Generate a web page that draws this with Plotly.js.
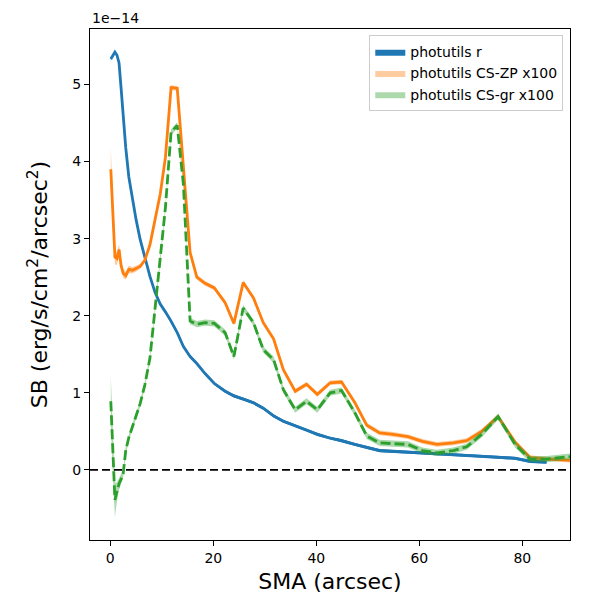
<!DOCTYPE html>
<html>
<head>
<meta charset="utf-8">
<script src="https://cdn.plot.ly/plotly-3.0.1.min.js"></script>
<style>
  html, body { margin: 0; padding: 0; background: #fff; }
  #plot { width: 600px; height: 600px; }
</style>
</head>
<body>
<div id="plot"></div>
<script>
// SMA samples (arcsec)
const sma = [0.1, 0.5, 0.9, 1.3, 1.7, 2.1, 2.5, 3.0, 3.6, 4.3,
  5.0, 5.8, 6.7, 7.7, 8.7, 9.7, 10.7, 11.8, 13.0, 14.2,
  15.5, 16.8, 18.4, 20.2, 22.3, 24.0, 25.8, 27.8, 29.7, 31.7,
  33.6, 35.9, 38.1, 40.2, 42.7, 44.9, 47.5, 49.8, 52.3, 54.9,
  57.8, 60.6, 63.4, 66.6, 69.2, 72.1, 75.3, 78.6, 81.5, 84.7, 90.5];

// surface brightness, units of 1e-14 erg/s/cm2/arcsec2
const sbR = [5.33, 5.37, 5.42, 5.38, 5.28, 4.95, 4.55, 4.18, 3.80, 3.50,
  3.25, 2.99, 2.75, 2.51, 2.30, 2.15, 2.05, 1.93, 1.78, 1.60,
  1.47, 1.38, 1.25, 1.12, 1.02, 0.96, 0.92, 0.87, 0.80, 0.70,
  0.63, 0.57, 0.52, 0.46, 0.41, 0.38, 0.33, 0.29, 0.25, 0.24,
  0.23, 0.22, 0.21, 0.20, 0.19, 0.18, 0.17, 0.15, 0.11, 0.10];
const errR = [0.02, 0.02, 0.02, 0.02, 0.02, 0.02, 0.02, 0.02, 0.02, 0.02,
  0.02, 0.02, 0.02, 0.02, 0.02, 0.02, 0.02, 0.02, 0.02, 0.02,
  0.02, 0.02, 0.02, 0.02, 0.02, 0.02, 0.02, 0.02, 0.02, 0.02,
  0.02, 0.02, 0.02, 0.02, 0.02, 0.02, 0.02, 0.02, 0.02, 0.02,
  0.02, 0.02, 0.02, 0.02, 0.02, 0.02, 0.02, 0.02, 0.02, 0.02];

const sbZP = [3.90, 3.30, 2.76, 2.74, 2.86, 2.65, 2.55, 2.52, 2.60, 2.59,
  2.61, 2.64, 2.72, 2.92, 3.25, 3.58, 4.05, 4.96, 4.95, 3.93,
  2.82, 2.50, 2.42, 2.36, 2.17, 1.90, 2.43, 2.23, 1.91, 1.70,
  1.30, 1.02, 1.11, 0.98, 1.13, 1.14, 0.87, 0.58, 0.48, 0.46,
  0.43, 0.37, 0.33, 0.35, 0.38, 0.50, 0.69, 0.36, 0.16, 0.14, 0.12];
const errZP = [0.28, 0.20, 0.10, 0.08, 0.07, 0.06, 0.06, 0.05, 0.05, 0.04,
  0.04, 0.03, 0.03, 0.03, 0.03, 0.03, 0.03, 0.03, 0.03, 0.03,
  0.03, 0.03, 0.03, 0.03, 0.03, 0.03, 0.03, 0.03, 0.03, 0.03,
  0.03, 0.03, 0.03, 0.03, 0.03, 0.03, 0.03, 0.03, 0.03, 0.03,
  0.03, 0.03, 0.03, 0.03, 0.03, 0.03, 0.03, 0.03, 0.03, 0.03, 0.03];

const sbGR = [0.89, 0.20, -0.39, -0.28, -0.18, -0.12, -0.05, 0.25, 0.42, 0.56,
  0.70, 0.86, 1.10, 1.45, 2.10, 2.72, 3.40, 4.38, 4.47, 3.70,
  1.93, 1.89, 1.91, 1.90, 1.78, 1.47, 2.10, 1.91, 1.56, 1.43,
  1.04, 0.78, 0.89, 0.78, 1.00, 1.03, 0.74, 0.44, 0.35, 0.34,
  0.33, 0.25, 0.22, 0.25, 0.30, 0.46, 0.69, 0.33, 0.14, 0.14, 0.18];
const errGR = [0.32, 0.25, 0.22, 0.12, 0.08, 0.06, 0.05, 0.05, 0.04, 0.04,
  0.04, 0.04, 0.04, 0.04, 0.04, 0.04, 0.04, 0.04, 0.04, 0.04,
  0.04, 0.04, 0.04, 0.04, 0.04, 0.04, 0.04, 0.04, 0.04, 0.04,
  0.04, 0.04, 0.04, 0.04, 0.04, 0.04, 0.04, 0.04, 0.04, 0.04,
  0.04, 0.04, 0.04, 0.04, 0.04, 0.04, 0.04, 0.04, 0.04, 0.04, 0.04];

const names = ['photutils r', 'photutils CS-ZP x100', 'photutils CS-gr x100'];

// band between val-err and val+err, like fill_between
const band = (vals, errs, name, fill) => {
  let x = sma.slice(0, vals.length);
  let up = vals.map((v, i) => v + errs[i]);
  let lo = vals.map((v, i) => v - errs[i]);
  return {
    x: x.concat(x.slice().reverse()),
    y: up.concat(lo.slice().reverse()),
    type: 'scatter', mode: 'lines', fill: 'toself',
    fillcolor: fill, line: {width: 0}, name: name,
    hoverinfo: 'skip'
  };
};
const curve = (vals, color, dash) => ({
  x: sma.slice(0, vals.length), y: vals,
  type: 'scatter', mode: 'lines', showlegend: false,
  line: {color: color, width: 2.8, dash: dash || 'solid'}
});

let data = [
  band(sbR, errR, names[0], '#1f77b4'),
  curve(sbR, '#1f77b4'),
  band(sbZP, errZP, names[1], 'rgba(255,127,14,0.4)'),
  curve(sbZP, '#ff7f0e'),
  band(sbGR, errGR, names[2], 'rgba(44,160,44,0.4)'),
  curve(sbGR, '#2ca02c', '10px,4px')
];

const font = 'DejaVu Sans, sans-serif';
let layout = {
  width: 600, height: 600,
  margin: {l: 90, r: 30, t: 29, b: 60},
  paper_bgcolor: '#fff', plot_bgcolor: '#fff',
  font: {family: font, color: '#000', size: 14},
  showlegend: true,
  legend: {
    x: 0.986, y: 0.988, xanchor: 'right', yanchor: 'top',
    bgcolor: 'rgba(255,255,255,0.8)', bordercolor: '#cccccc', borderwidth: 1,
    font: {family: font, size: 14}, tracegroupgap: 0, itemwidth: 30
  },
  xaxis: {
    range: [-3.94, 89.26], tickvals: [0, 20, 40, 60, 80],
    showgrid: false, zeroline: false,
    showline: true, mirror: true, linecolor: '#000', linewidth: 1,
    ticks: 'outside', ticklen: 5, tickwidth: 1, tickcolor: '#000',
    tickfont: {size: 14},
    title: {text: 'SMA (arcsec)', font: {size: 22}, standoff: 8}
  },
  yaxis: {
    range: [-0.91, 5.72], tickvals: [0, 1, 2, 3, 4, 5],
    showgrid: false, zeroline: false,
    showline: true, mirror: true, linecolor: '#000', linewidth: 1,
    ticks: 'outside', ticklen: 5, tickwidth: 1, tickcolor: '#000',
    tickfont: {size: 14},
    title: {text: 'SB (erg/s/cm<sup>2</sup>/arcsec<sup>2</sup>)', font: {size: 22}, standoff: 18}
  },
  shapes: [{
    type: 'line', xref: 'paper', yref: 'y', x0: 0, x1: 1, y0: 0, y1: 0,
    line: {color: '#000', width: 1.8, dash: '8px,4px'}, layer: 'above'
  }],
  annotations: [{
    text: '1e\u221214', xref: 'paper', yref: 'paper', x: 0, y: 1,
    xanchor: 'left', yanchor: 'bottom', showarrow: false,
    font: {size: 14}, yshift: 1
  }]
};

Plotly.newPlot('plot', data, layout, {staticPlot: true});
</script>
</body>
</html>
